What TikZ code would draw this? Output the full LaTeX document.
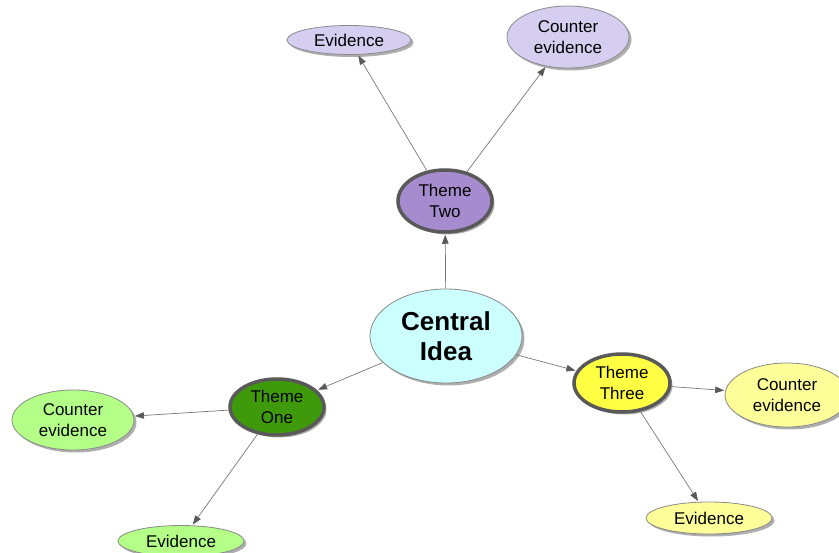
\documentclass[tikz,border=0pt]{standalone}
\usepackage{fontspec}
\setmainfont{Liberation Sans}
\usetikzlibrary{shapes.geometric,arrows.meta,shadows}
\definecolor{lav}{HTML}{D5CEF0}
\definecolor{lgreen}{HTML}{B4FF88}
\definecolor{lyellow}{HTML}{FFFF99}
\definecolor{tpurple}{HTML}{A68BCF}
\definecolor{tgreen}{HTML}{3E9A0A}
\definecolor{tyellow}{HTML}{FFFF44}
\definecolor{ccyan}{HTML}{CCFFFF}
\definecolor{rimgray}{HTML}{8A8A8A}
\definecolor{thickgray}{HTML}{595959}
\definecolor{linegray}{HTML}{777777}
\tikzset{
  bubble/.style={ellipse, inner sep=0pt, draw=rimgray, line width=0.8pt,
    align=center, font=\fontsize{17}{20.5}\selectfont,
    drop shadow={shadow xshift=2.5pt, shadow yshift=-2.5pt, fill=black!45, opacity=0.7}},
  theme/.style={bubble, draw=thickgray, line width=3.5pt},
  link/.style={draw=linegray, line width=0.7pt,
    -{Triangle[length=9pt,width=6.5pt,fill=black!65,color=black!65]}, shorten >=1pt}
}
\begin{document}
\begin{tikzpicture}[x=1pt,y=-1pt]
\useasboundingbox (0,0) rectangle (839,553);
\node[bubble, fill=ccyan, minimum width=152pt, minimum height=94pt,
  font=\fontsize{26}{30}\selectfont\bfseries] (c) at (446,336) {Central\\Idea};
\node[theme, fill=tpurple, minimum width=94pt, minimum height=62pt] (t2) at (445,201) {Theme\\Two};
\node[theme, fill=tgreen, minimum width=94pt, minimum height=56pt] (t1) at (277,407) {Theme\\One};
\node[theme, fill=tyellow, minimum width=96pt, minimum height=58pt] (t3) at (622,383) {Theme\\Three};
\node[bubble, fill=lav, minimum width=124pt, minimum height=29pt] (e2) at (349,40) {Evidence};
\node[bubble, fill=lav, minimum width=122pt, minimum height=62pt] (ce2) at (568,37) {Counter\\evidence};
\node[bubble, fill=lgreen, minimum width=122pt, minimum height=60pt] (ce1) at (73,420) {Counter\\evidence};
\node[bubble, fill=lgreen, minimum width=126pt, minimum height=31pt] (e1) at (181,541) {Evidence};
\node[bubble, fill=lyellow, minimum width=124pt, minimum height=64pt] (ce3) at (787,395) {Counter\\evidence};
\node[bubble, fill=lyellow, minimum width=126pt, minimum height=32pt] (e3) at (709,518) {Evidence};
\draw[link] (c) -- (t2);
\draw[link] (c) -- (t1);
\draw[link] (c) -- (t3);
\draw[link] (t2) -- (e2);
\draw[link] (t2) -- (ce2);
\draw[link] (t1) -- (ce1);
\draw[link] (t1) -- (e1);
\draw[link] (t3) -- (ce3);
\draw[link] (t3) -- (e3);
\end{tikzpicture}
\end{document}
